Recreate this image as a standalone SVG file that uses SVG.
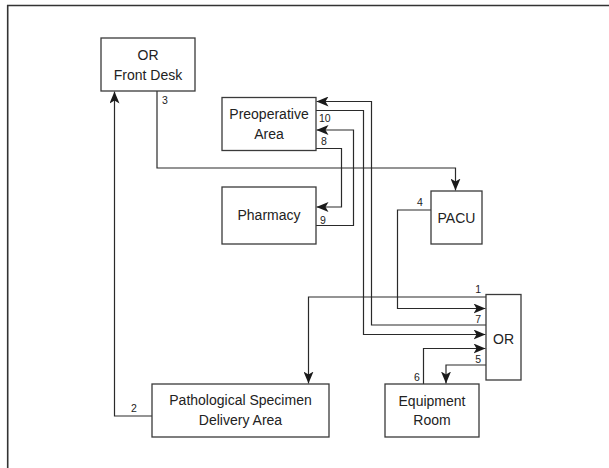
<svg xmlns="http://www.w3.org/2000/svg" width="609" height="468" viewBox="0 0 609 468">
  <style>
    .box { fill: #ffffff; stroke: #3a3a3a; stroke-width: 1.3; }
    .lbl { font-family: "Liberation Sans", Arial, sans-serif; font-size: 14px; fill: #222; text-anchor: middle; }
    .num { font-family: "Liberation Sans", Arial, sans-serif; font-size: 10.5px; fill: #222; }
    .conn { fill: none; stroke: #2a2a2a; stroke-width: 1.2; }
    .arr { marker-end: url(#ah); }
    .frame { fill: none; stroke: #333; stroke-width: 1.6; }
  </style>
  <defs>
    <marker id="ah" viewBox="0 0 12 10" refX="12" refY="5" markerWidth="12" markerHeight="10" markerUnits="userSpaceOnUse" orient="auto">
      <path d="M0,0 L12,5 L0,10 L3,5 z" fill="#1a1a1a"/>
    </marker>
  </defs>
  <rect width="609" height="468" fill="#ffffff"/>
  <path class="frame" d="M7.7,468 V5.5 H609"/>

  <g id="connectors">
    <!-- 2: Pathological -> OR Front Desk -->
    <path class="conn arr" d="M152,416 H114.5 V91.5"/>
    <!-- 3: OR Front Desk -> PACU -->
    <path class="conn arr" d="M157,91 V168 H455.5 V190.5"/>
    <!-- 4: PACU -> OR -->
    <path class="conn arr" d="M431,210 H397.5 V308.5 H485.5"/>
    <!-- 1: OR -> Pathological -->
    <path class="conn arr" d="M486,297 H308.5 V383.5"/>
    <!-- 7: OR -> Preoperative -->
    <path class="conn arr" d="M486,325 H371.5 V101.5 H316.5"/>
    <!-- 10: Preoperative -> OR -->
    <path class="conn arr" d="M316,110.5 H363.5 V334.5 H485.5"/>
    <!-- 8: Preoperative -> Pharmacy -->
    <path class="conn arr" d="M316,148.5 H341.5 V207 H316.5"/>
    <!-- 9: Pharmacy -> Preoperative -->
    <path class="conn arr" d="M316,225.5 H353.5 V130 H316.5"/>
    <!-- 6: Equipment -> OR -->
    <path class="conn arr" d="M423.5,384 V348.5 H485.5"/>
    <!-- 5: OR -> Equipment -->
    <path class="conn arr" d="M486,365 H446 V383.5"/>
  </g>

  <g id="labels">
    <text class="num" x="162" y="104">3</text>
    <text class="num" x="131" y="411.5">2</text>
    <text class="num" x="319" y="122">10</text>
    <text class="num" x="321" y="145">8</text>
    <text class="num" x="320" y="224">9</text>
    <text class="num" x="417" y="206">4</text>
    <text class="num" x="481" y="293" text-anchor="end">1</text>
    <text class="num" x="481" y="322.7" text-anchor="end">7</text>
    <text class="num" x="481" y="363" text-anchor="end">5</text>
    <text class="num" x="414" y="381">6</text>
  </g>

  <g id="or-front-desk">
    <rect class="box" x="101" y="38" width="94" height="53"/>
    <text class="lbl" x="148" y="60">OR</text>
    <text class="lbl" x="148" y="79.5">Front Desk</text>
  </g>
  <g id="preoperative-area">
    <rect class="box" x="222" y="97.5" width="94" height="53"/>
    <text class="lbl" x="269" y="119.3">Preoperative</text>
    <text class="lbl" x="269" y="139">Area</text>
  </g>
  <g id="pharmacy">
    <rect class="box" x="222" y="187" width="94" height="57"/>
    <text class="lbl" x="269" y="220">Pharmacy</text>
  </g>
  <g id="pacu">
    <rect class="box" x="431" y="191" width="51" height="53"/>
    <text class="lbl" x="456.5" y="223">PACU</text>
  </g>
  <g id="or">
    <rect class="box" x="486" y="294.5" width="35" height="85.5"/>
    <text class="lbl" x="503.5" y="344">OR</text>
  </g>
  <g id="equipment-room">
    <rect class="box" x="385" y="384" width="94" height="53"/>
    <text class="lbl" x="432" y="405.5">Equipment</text>
    <text class="lbl" x="432" y="425">Room</text>
  </g>
  <g id="pathological-specimen-delivery-area">
    <rect class="box" x="152" y="384" width="177" height="53"/>
    <text class="lbl" x="240.5" y="405">Pathological Specimen</text>
    <text class="lbl" x="240.5" y="425">Delivery Area</text>
  </g>
</svg>
